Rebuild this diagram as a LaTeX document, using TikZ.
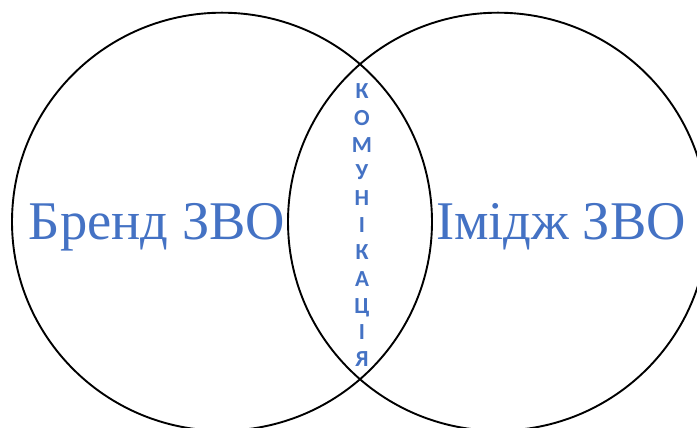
\documentclass[tikz,border=0pt]{standalone}
\usepackage{fontspec}
\setmainfont{Liberation Serif}
\newfontfamily\calfont{Carlito}
\definecolor{txtblue}{HTML}{4472C4}
\begin{document}
\begin{tikzpicture}[x=1pt,y=1pt,
  ring/.style={draw=black, line width=1.9pt},
  biglabel/.style={text=txtblue, font=\fontsize{54.5}{60}\selectfont, inner sep=0pt, anchor=base},
  vletter/.style={text=txtblue, font=\calfont\bfseries\fontsize{23}{26}\selectfont, inner sep=0pt, anchor=base}]
\useasboundingbox (0,0) rectangle (697,428);
\fill[white] (0,0) rectangle (697,428);
\draw[ring] (222,206.3) ellipse [x radius=210, y radius=209];
\draw[ring] (498,206.3) ellipse [x radius=210, y radius=209];
\node[biglabel] (brand) at (157,188) {Бренд ЗВО};
\node[biglabel] (image) at (561,188) {Імідж ЗВО};
\foreach \ch [count=\i from 0] in {К,О,М,У,Н,І,К,А,Ц,І,Я}
  \node[vletter] (l\i) at (362,{329.3-26.8*\i}) {\ch};
\end{tikzpicture}
\end{document}
